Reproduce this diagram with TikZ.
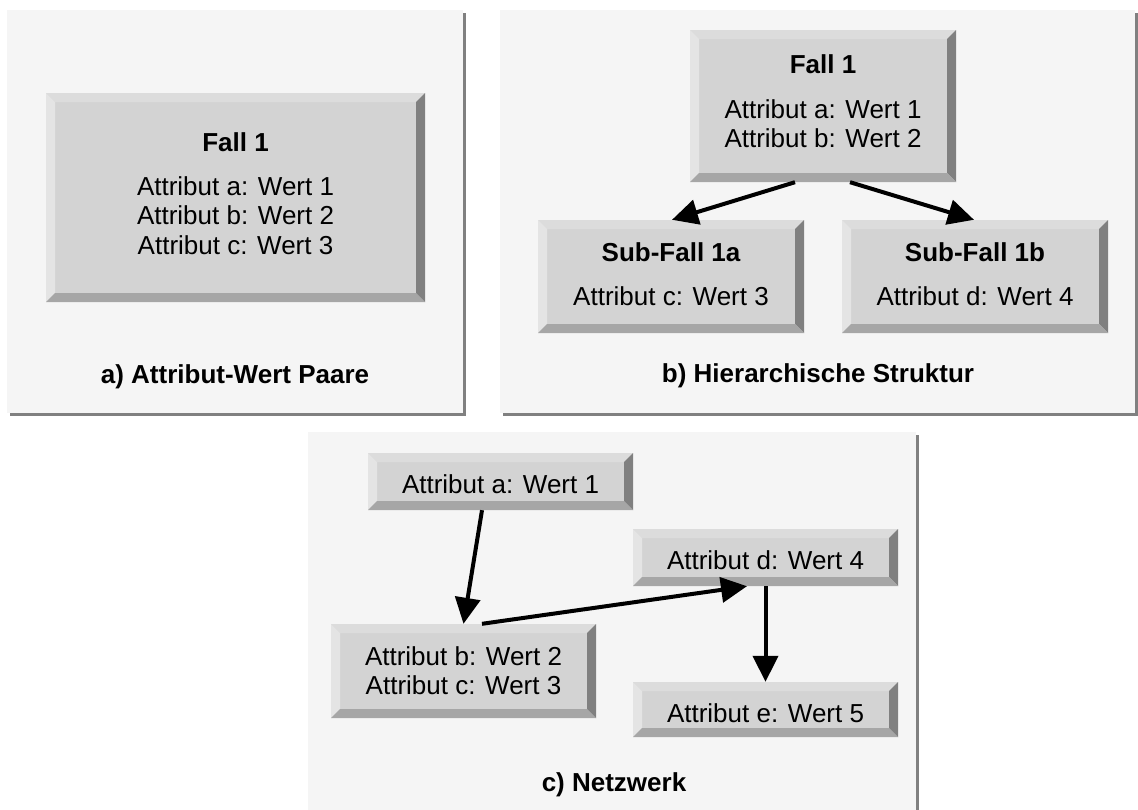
\documentclass[tikz,border=0pt]{standalone}
\usepackage{fontspec}
\setmainfont{Liberation Sans}
\usetikzlibrary{arrows.meta}
\definecolor{panelbg}{HTML}{F5F5F5}
\definecolor{panelshade}{HTML}{808080}
\definecolor{bvface}{HTML}{D3D3D3}
\definecolor{bvtop}{HTML}{DCDCDC}
\definecolor{bvleft}{HTML}{E4E4E4}
\definecolor{bvright}{HTML}{808080}
\definecolor{bvbottom}{HTML}{A6A6A6}
\begin{document}
\begin{tikzpicture}[x=1pt,y=-1pt,
  panel/.style={fill=panelbg},
  panelshadow/.style={fill=panelshade},
  % raised box with a 9pt bevel on every side
  bevelbox/.style={rectangle, inner sep=0pt, fill=bvface,
    path picture={
      \path (path picture bounding box.south west) coordinate (bl)
            (path picture bounding box.north east) coordinate (tr)
            (bl|-tr) coordinate (tl)
            (tr|-bl) coordinate (br);
      \fill[bvtop] (tl) -- (tr) -- ([shift={(-9pt,-9pt)}]tr) -- ([shift={(9pt,-9pt)}]tl) -- cycle;
      \fill[bvleft] (tl) -- ([shift={(9pt,-9pt)}]tl) -- ([shift={(9pt,9pt)}]bl) -- (bl) -- cycle;
      \fill[bvright] (tr) -- (br) -- ([shift={(-9pt,9pt)}]br) -- ([shift={(-9pt,-9pt)}]tr) -- cycle;
      \fill[bvbottom] (bl) -- (br) -- ([shift={(-9pt,9pt)}]br) -- ([shift={(9pt,9pt)}]bl) -- cycle;
    }},
  txt/.style={anchor=base, inner sep=0pt, font=\fontsize{26pt}{29.5pt}\selectfont},
  head/.style={anchor=base, inner sep=0pt, font=\fontsize{26pt}{29.5pt}\selectfont\bfseries},
  link/.style={line width=4pt, -{Triangle[length=26pt,width=25pt]}}
]
\useasboundingbox (0,0) rectangle (1138,809);
\fill[white] (0,0) rectangle (1138,809);

% ---- panel a: attribute-value pairs
\fill[panelshadow] (10,13) rectangle (466,416);
\fill[panel] (7,10) rectangle (463,413);
\node[bevelbox, minimum width=379pt, minimum height=209pt] (A1) at (235.5,197.5) {};
\node[head] (A1h) at (235.5,151) {Fall 1};
\node[txt] (A1a) at (235.5,195) {Attribut a: Wert 1};
\node[txt] (A1b) at (235.5,224.5) {Attribut b: Wert 2};
\node[txt] (A1c) at (235.5,254) {Attribut c: Wert 3};
\node[head] (capA) at (235,383) {a) Attribut-Wert Paare};

% ---- panel b: hierarchical structure
\fill[panelshadow] (503,13) rectangle (1138,416);
\fill[panel] (500,10) rectangle (1135,413);
\node[bevelbox, minimum width=266pt, minimum height=152pt] (B1) at (823,106) {};
\node[head] (B1h) at (823,73) {Fall 1};
\node[txt] (B1a) at (823,118) {Attribut a: Wert 1};
\node[txt] (B1b) at (823,147.5) {Attribut b: Wert 2};
\node[bevelbox, minimum width=266pt, minimum height=113pt] (B2) at (671,276.5) {};
\node[head] (B2h) at (671,261) {Sub-Fall 1a};
\node[txt] (B2a) at (671,305) {Attribut c: Wert 3};
\node[bevelbox, minimum width=266pt, minimum height=113pt] (B3) at (975,276.5) {};
\node[head] (B3h) at (975,261) {Sub-Fall 1b};
\node[txt] (B3a) at (975,305) {Attribut d: Wert 4};
\node[head] (capB) at (818,382) {b) Hierarchische Struktur};
\draw[link] ([xshift=-28pt]B1.south) -- ([xshift=1pt]B2.north);
\draw[link] ([xshift=27pt]B1.south) -- ([xshift=-1pt]B3.north);

% ---- panel c: network
\fill[panelshadow] (311,435) rectangle (919,815);
\fill[panel] (308,432) rectangle (916,815);
\node[bevelbox, minimum width=265pt, minimum height=57pt] (C1) at (500.5,481.5) {};
\node[txt] (C1a) at (500.5,493) {Attribut a: Wert 1};
\node[bevelbox, minimum width=265pt, minimum height=57pt] (C2) at (765.5,557.5) {};
\node[txt] (C2a) at (765.5,569) {Attribut d: Wert 4};
\node[bevelbox, minimum width=265pt, minimum height=94pt] (C3) at (463.5,671) {};
\node[txt] (C3a) at (463.5,665) {Attribut b: Wert 2};
\node[txt] (C3b) at (463.5,694.5) {Attribut c: Wert 3};
\node[bevelbox, minimum width=265pt, minimum height=55pt] (C4) at (765.5,709.5) {};
\node[txt] (C4a) at (765.5,722) {Attribut e: Wert 5};
\node[head] (capC) at (614,791) {c) Netzwerk};
\draw[link] ([xshift=-18.5pt]C1.south) -- (C3.north);
\draw[link] ([xshift=18.5pt]C3.north) -- ([xshift=-18.5pt]C2.south);
\draw[link] (C2.south) -- (C4.north);
\end{tikzpicture}
\end{document}
